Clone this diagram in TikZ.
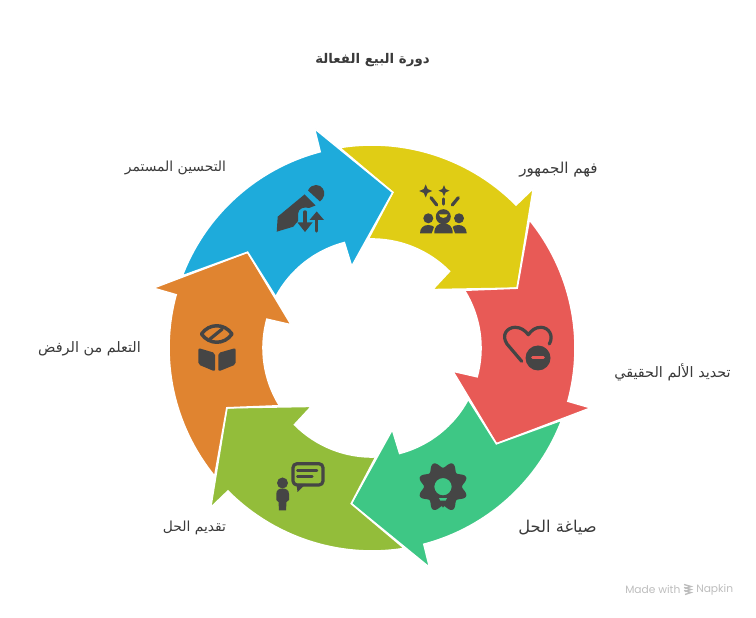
\documentclass[tikz,border=0pt]{standalone}
\usepackage{fontspec}
\newfontfamily\arabicfont[Script=Arabic]{DejaVu Sans}
\newfontfamily\napkinfont{Poppins}
\TeXXeTstate=1
\definecolor{segyellow}{HTML}{E0CD15}
\definecolor{segred}{HTML}{E85A56}
\definecolor{seggreen}{HTML}{3EC785}
\definecolor{seglime}{HTML}{93BD3A}
\definecolor{segorange}{HTML}{E08430}
\definecolor{segblue}{HTML}{1EABDB}
\definecolor{icongray}{HTML}{454545}
\definecolor{labelgray}{HTML}{3A3A3A}
\definecolor{markgray}{HTML}{BDBDBD}

\begin{document}
\begin{tikzpicture}[x=0.75pt,y=0.75pt,
                    segment/.style={draw=white,line width=1.2pt,line join=miter},
                    iconfill/.style={fill=icongray,draw=none},
                    iconline/.style={draw=icongray,fill=none,line width=2.4pt,line cap=round,line join=round},
                    steplabel/.style={text=labelgray,font=\arabicfont\fontsize{#1}{13}\selectfont,inner sep=0pt},
                    steplabel/.default=10.8,
                    marktext/.style={text=markgray,font=\napkinfont\fontsize{8}{10}\selectfont,inner sep=0pt}]
  \useasboundingbox (0,0) rectangle (756,617);

  % the six arrows are one shape turned in steps of 60 degrees
  \foreach \segcolor/\segangle in {segyellow/0,segred/-60,seggreen/-120,seglime/-180,segorange/-240,segblue/-300}{
    \begin{scope}[shift={(372,269)},rotate=\segangle]
      \path[segment,fill=\segcolor] (99.2:203) arc[start angle=99.2,end angle=44.8,radius=203]
           -- (44.7:227) -- (22.4:157) -- (44:84) -- (44.7:109)
           arc[start angle=44.7,end angle=92,radius=109] -- (82.4:157) -- cycle;
    \end{scope}
  }

  % from here on y runs down, as in the reference
  \begin{scope}[shift={(0,617)},yscale=-1]
    \node[steplabel,font=\arabicfont\bfseries\fontsize{10}{12}\selectfont] (title) at (372.5,60.5) {\beginR دورة البيع الفعالة\endR};
    \node[steplabel=11.3] (audience)  at (558.5,169.5) {\beginR فهم الجمهور\endR};
    \node[steplabel]      (pain)      at (672.5,372.5) {\beginR تحديد الألم الحقيقي\endR};
    \node[steplabel=12.2] (solution)  at (557.5,527.5) {\beginR صياغة الحل\endR};
    \node[steplabel=10.4] (delivery)  at (194.5,527.5) {\beginR تقديم الحل\endR};
    \node[steplabel]      (rejection) at (89.5,348.5)  {\beginR التعلم من الرفض\endR};
    \node[steplabel=10.4] (improve)   at (175.5,167.5) {\beginR التحسين المستمر\endR};

    % audience icon
    \foreach \sx/\sy/\sr in {425.7/191/6.5,444/190.7/5.5}{
      \fill[iconfill,shift={(\sx,\sy)},scale=\sr] (0,-1) -- (.3,-.3) -- (1,0) -- (.3,.3)
           -- (0,1) -- (-.3,.3) -- (-1,0) -- (-.3,-.3) -- cycle;
    }
    \draw[iconline] (431,197.7) -- (436.7,205);
    \draw[iconline] (443.3,199) -- (443.3,204);
    \draw[iconline] (458.3,197.7) -- (452.3,205);
    \fill[iconfill] (443.3,216.7) circle (7.5);
    \fill[iconfill] (428.3,218.3) circle (5);
    \fill[iconfill] (459,218.3) circle (5);
    \fill[segyellow] (439,214.5) -- (447.7,214.5) .. controls (447,219) and (439.6,219) .. cycle;
    \fill[iconfill] (434.3,233.3) .. controls (434.3,226) and (438,223.5) .. (443.3,223.5)
         .. controls (449,223.5) and (452.7,226) .. (452.7,233.3) -- cycle;
    \fill[iconfill] (420,233.3) .. controls (420,228) and (423.5,225) .. (428.3,225)
         .. controls (431,225) and (433,226) .. (434,227) -- (431.7,233.3) -- cycle;
    \fill[iconfill] (466.7,233.3) .. controls (466.7,228) and (463,225) .. (458.3,225)
         .. controls (455.6,225) and (453.6,226) .. (452.7,227) -- (455,233.3) -- cycle;

    % pencil icon
    \fill[iconfill] (276.7,231.7) -- (277.7,216.7) -- (304.5,194.5) -- (315.5,205.5) -- (309,208)
         .. controls (305,206.5) and (298,208) .. (298,214) -- (298,221) -- (293.3,226.7) -- cycle;
    \fill[iconfill] (308,190.5) .. controls (310,186.5) and (313,185) .. (316,185)
         .. controls (322,185) and (325.5,191) .. (324,195.5) .. controls (323,198.5) and (322,200) .. (320,201.5) -- cycle;
    \draw[iconline,line width=2.6pt] (305,212) -- (305,226);
    \fill[iconfill] (297.5,222.5) -- (312.5,222.5) -- (305,232) -- cycle;
    \draw[iconline,line width=2.6pt] (316.7,231) -- (316.7,218);
    \fill[iconfill] (309.5,220) -- (324,220) -- (316.7,211.5) -- cycle;

    % eye over book icon
    \draw[iconline,line width=2.6pt] (201.5,334) .. controls (209,323) and (224.5,323) .. (232,334)
         .. controls (224.5,345) and (209,345) .. cycle;
    \draw[iconline,line width=2.4pt] (210,339) -- (222.3,329);
    \fill[iconfill,rounded corners=1.5pt] (198.3,348) -- (215,353) -- (215,371.5) -- (198.3,364.5) -- cycle;
    \fill[iconfill,rounded corners=1.5pt] (218.3,353) -- (235.7,348) -- (235.7,364.5) -- (218.3,371.5) -- cycle;

    % presenter icon
    \fill[iconfill] (282.5,483) circle (5.5);
    \fill[iconfill] (276.3,500) -- (276.3,494) .. controls (276.3,490) and (279,488.5) .. (282.5,488.5)
         .. controls (286,488.5) and (289,490) .. (289,494) -- (289,500) -- (286.5,502)
         -- (286,510.5) -- (279,510.5) -- (278.5,502) -- cycle;
    \draw[iconline,rounded corners=3pt] (293,463.7) rectangle (323,485);
    \fill[iconfill] (296.5,484) -- (297.5,492) -- (305.5,484) -- cycle;
    \draw[iconline,line width=1.8pt] (297.3,470.7) -- (317,470.7);
    \draw[iconline,line width=1.8pt] (297.3,476.7) -- (312.3,476.7);

    % gear icon
    \begin{scope}[shift={(443,486.7)}]
      \fill[iconfill,even odd rule] plot[smooth cycle,domain=0:357,samples=120] (\x:{22-3*cos(8*\x)}) (0,0) circle (8.7);
      \fill[seggreen] (-4,11.5) -- (4,11.5) -- (2.5,14) -- (-2.5,14) -- cycle;
      \fill[iconfill] (-2.5,17) -- (2.5,17) -- (0,21) -- cycle;
    \end{scope}

    % heart icon
    \draw[iconline] (521.7,361.3) -- (507,344) .. controls (501,335) and (507,327.5) .. (515,327.3)
         .. controls (521,327.3) and (525,330.5) .. (528.3,334.7)
         .. controls (531.5,330.5) and (535,327.3) .. (541,327.3)
         .. controls (549,327.5) and (554,336) .. (549.3,344);
    \fill[iconfill] (538,358) circle (12.5);
    \draw[segred,line width=2.2pt,line cap=round] (532.7,357.7) -- (543.3,357.7);

    % watermark
    \node[marktext,anchor=west] (madewith) at (625,589.5) {Made with};
    \node[marktext,anchor=west] (napkin)   at (696,589.5) {Napkin};
    \foreach \my in {584.5,587.5,590.5}{
      \draw[markgray,line width=1pt] (684,\my) -- (691,\my+2) -- (685,\my+4);
    }
  \end{scope}
\end{tikzpicture}
\end{document}
